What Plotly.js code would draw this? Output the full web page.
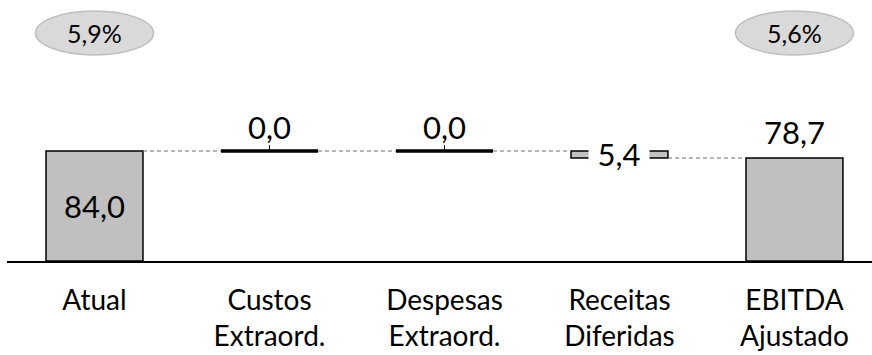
<!DOCTYPE html>
<html><head><meta charset="utf-8">
<script src="https://cdn.plot.ly/plotly-3.0.1.min.js"></script>
<style>html,body{margin:0;padding:0;background:#fff;}#chart{width:872px;height:355px;}</style>
</head><body><div id="chart"></div>
<script>
// ---- data ----
const categories = ["Atual", "Custos<br>Extraord.", "Despesas<br>Extraord.", "Receitas<br>Diferidas", "EBITDA<br>Ajustado"];
const measures   = ["absolute", "relative", "relative", "relative", "total"];
const values     = [84.0, 0.0, 0.0, -5.4, 78.7];
const marginLabels = ["5,9%", null, null, null, "5,6%"];

// ---- build ----
const FONT = "Lato, 'Open Sans', sans-serif";
const BW = 0.554;
const fmt = v => Math.abs(v).toFixed(1).replace('.', ',');
const xs = categories.map((_, i) => i);

let running = 0;
const bases = [], heights = [], ends = [];
values.forEach((v, i) => {
  if (measures[i] === 'absolute' || measures[i] === 'total') {
    bases.push(0); heights.push(v); running = v; ends.push(v);
  } else {
    const start = running; running = start + v;
    bases.push(Math.min(start, running)); heights.push(Math.abs(v)); ends.push(running);
  }
});

const traces = [];
// connectors
for (let i = 0; i < values.length - 1; i++) {
  const level = ends[i];
  traces.push({type: 'scatter', mode: 'lines', x: [i + BW / 2, i + 1 - BW / 2], y: [level, level],
    line: {color: '#6f6f6f', width: 1.1, dash: '4px,3px'}, hoverinfo: 'skip', showlegend: false});
}
// bars (non-zero)
const barIdx = xs.filter(i => heights[i] !== 0);
traces.push({type: 'bar', x: barIdx, y: barIdx.map(i => heights[i]), base: barIdx.map(i => bases[i]),
  width: BW, marker: {color: '#c0c0c0', line: {color: '#000', width: 1.5}}, hoverinfo: 'skip', showlegend: false});
// zero-change markers as thick lines
const zeroIdx = xs.filter(i => heights[i] === 0);
traces.push({type: 'scatter', mode: 'markers', x: zeroIdx, y: zeroIdx.map(i => bases[i]),
  marker: {size: 0.1, color: 'rgba(0,0,0,0)'},
  error_x: {type: 'constant', value: BW / 2, color: '#000', thickness: 3.5, width: 0},
  error_y: {type: 'data', symmetric: false, array: zeroIdx.map(() => 4.5), arrayminus: zeroIdx.map(() => 0), color: '#000', thickness: 1, width: 0},
  hoverinfo: 'skip', showlegend: false});

// annotations
const LBL = {family: FONT, size: 31, color: '#000'};
const annotations = [];
values.forEach((v, i) => {
  const top = bases[i] + heights[i];
  if (i === 0) {
    annotations.push({x: i, y: (bases[i] + top) / 2, yanchor: 'middle', text: fmt(v), showarrow: false, font: LBL});
  } else if (measures[i] === 'relative' && heights[i] !== 0) {
    annotations.push({x: i, y: (bases[i] + top) / 2, yanchor: 'middle', text: fmt(v), showarrow: false, bgcolor: '#fff',
      borderpad: 0, font: LBL, width: 60, height: 32});
  } else {
    annotations.push({x: i, y: top, yanchor: 'bottom', yshift: heights[i] === 0 ? 3 : 5, text: fmt(v), showarrow: false, font: LBL});
  }
});
const shapes = [];
const ellY = 1 - 33 / 261;
marginLabels.forEach((t, i) => {
  if (!t) return;
  shapes.push({type: 'circle', xref: 'x', yref: 'paper', xsizemode: 'pixel', ysizemode: 'pixel',
    xanchor: i, yanchor: ellY, x0: -59, x1: 59, y0: -22, y1: 22,
    fillcolor: '#d9d9d9', line: {color: '#bfbfbf', width: 1.5}, layer: 'above'});
  annotations.push({x: i, xref: 'x', xanchor: 'center', y: ellY, yref: 'paper', yanchor: 'middle',
    text: t, showarrow: false, font: {family: FONT, size: 25, color: '#000'}});
});

const layout = {
  width: 872, height: 355,
  margin: {l: 7, r: 0, t: 0, b: 94},
  paper_bgcolor: '#fff', plot_bgcolor: '#fff',
  showlegend: false,
  xaxis: {type: 'linear', range: [-0.5, 4.443], tickvals: xs, ticktext: categories, showgrid: false, zeroline: false,
    showline: true, linecolor: '#000', linewidth: 2, ticks: '', ticklabelstandoff: 13,
    tickfont: {family: FONT, size: 28, color: '#000'}, fixedrange: true},
  yaxis: {range: [0, 199.2], visible: false, fixedrange: true},
  annotations: annotations, shapes: shapes
};
Plotly.newPlot('chart', traces, layout, {displayModeBar: false, staticPlot: true});
</script></body></html>
